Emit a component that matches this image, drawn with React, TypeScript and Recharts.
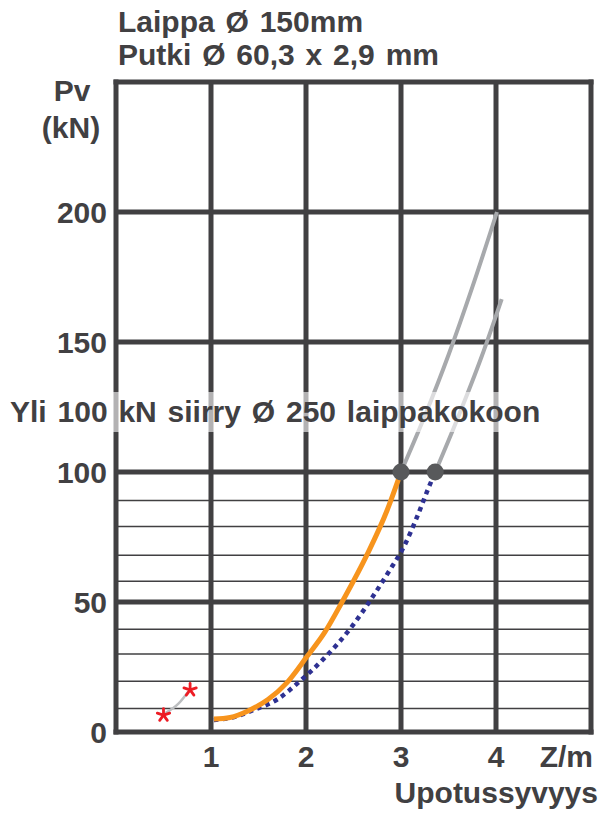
import React from 'react';
import { ComposedChart, Line, Scatter, XAxis, YAxis, ReferenceLine } from 'recharts';

// ---- Data ----
const xTicks = [1, 2, 3, 4];
const yTicks = [0, 50, 100, 150, 200];
const majorY = [50, 100, 150, 200];
const majorX = [1, 2, 3, 4];
const minorY = [9, 19.5, 30, 39.5, 58, 68, 79, 89];

// Orange solid curve
const orangeX = [1.03, 1.2, 1.4, 1.6, 1.8, 2.01, 2.2, 2.38, 2.64, 2.855, 3.0];
const orangeY = [5, 5.6, 8.3, 12.5, 19, 29, 38.5, 50, 68, 85.4, 100];

// Navy dotted curve
const navyX = [1.03, 1.25, 1.45, 1.7, 1.94, 2.19, 2.49, 2.68, 2.86, 3.04, 3.17, 3.28, 3.36];
const navyY = [4.6, 5.8, 8.5, 12.6, 19.7, 28.3, 40.9, 50.8, 61, 72, 82.8, 93, 100];

// Gray continuation curves
const gray1X = [3.0, 3.25, 3.5, 3.75, 4.01];
const gray1Y = [100, 121.5, 145, 171, 200];
const gray2X = [3.36, 3.6, 3.85, 4.06];
const gray2Y = [100, 121, 144.5, 166.5];

// End points (dots)
const dotX = [3.0, 3.36];
const dotY = [100, 100];

// Red asterisks and their connector
const starX = [0.5, 0.78];
const starY = [6.5, 16.2];
const connX = [0.52, 0.66, 0.76];
const connY = [7.3, 11, 15.5];

const zip = (xs: number[], ys: number[]) => xs.map((x, i) => ({ x, y: ys[i] }));

const orangeData = zip(orangeX, orangeY);
const navyData = zip(navyX, navyY);
const gray1Data = zip(gray1X, gray1Y);
const gray2Data = zip(gray2X, gray2Y);
const dotData = zip(dotX, dotY);
const starData = zip(starX, starY);
const connData = zip(connX, connY);

const FONT = '"Liberation Sans", Arial, Helvetica, sans-serif';
const TXT = '#414042';
const GRID = '#414042';

const Asterisk = (props: any) => {
  const { cx, cy } = props;
  const r = 6.5;
  return (
    <g>
      {[0, 1, 2, 3, 4].map((i) => {
        const a = ((-90 + i * 72) * Math.PI) / 180;
        return (
          <line
            key={i}
            x1={cx}
            y1={cy}
            x2={cx + r * Math.cos(a)}
            y2={cy + r * Math.sin(a)}
            stroke="#ED1C24"
            strokeWidth={2.8}
            strokeLinecap="round"
          />
        );
      })}
    </g>
  );
};

const BigDot = (props: any) => <circle cx={props.cx} cy={props.cy} r={8.5} fill="#58595B" />;

const tickStyle = { fill: TXT, fontSize: 30, fontWeight: 'bold', fontFamily: FONT };

export default function App() {
  return (
    <div style={{ position: 'absolute', left: 0, top: 0, width: 601, height: 814, background: '#fff' }}>
      <ComposedChart
        width={601}
        height={814}
        margin={{ top: 82, right: 10, bottom: 42, left: 16 }}
      >
        <XAxis
          type="number"
          dataKey="x"
          domain={[0, 5]}
          ticks={xTicks}
          interval={0}
          allowDataOverflow
          axisLine={false}
          tickLine={false}
          tickSize={0}
          tickMargin={14}
          height={40}
          tick={tickStyle}
        />
        <YAxis
          type="number"
          dataKey="y"
          domain={[0, 250]}
          ticks={yTicks}
          interval={0}
          allowDataOverflow
          axisLine={false}
          tickLine={false}
          tickSize={0}
          tickMargin={9}
          width={100}
          tick={tickStyle}
        />
        {minorY.map((v) => (
          <ReferenceLine key={'m' + v} y={v} stroke={GRID} strokeWidth={1.5} />
        ))}
        {majorY.map((v) => (
          <ReferenceLine key={'y' + v} y={v} stroke={GRID} strokeWidth={5} />
        ))}
        {majorX.map((v) => (
          <ReferenceLine key={'x' + v} x={v} stroke={GRID} strokeWidth={5} />
        ))}
        <ReferenceLine y={0} stroke={GRID} strokeWidth={5} strokeLinecap="square" />
        <ReferenceLine y={250} stroke={GRID} strokeWidth={5} strokeLinecap="square" />
        <ReferenceLine x={0} stroke={GRID} strokeWidth={5} strokeLinecap="square" />
        <ReferenceLine x={5} stroke={GRID} strokeWidth={5} strokeLinecap="square" />

        <Line data={connData} dataKey="y" type="monotone" stroke="#BCBEC0" strokeWidth={2.5} dot={false} isAnimationActive={false} />
        <Line data={gray1Data} dataKey="y" type="monotone" stroke="#A7A9AC" strokeWidth={4} dot={false} isAnimationActive={false} />
        <Line data={gray2Data} dataKey="y" type="monotone" stroke="#A7A9AC" strokeWidth={4} dot={false} isAnimationActive={false} />
        <Line data={navyData} dataKey="y" type="monotone" stroke="#2E3192" strokeWidth={4.5} strokeDasharray="4.5 4.5" dot={false} isAnimationActive={false} />
        <Line data={orangeData} dataKey="y" type="monotone" stroke="#F7941D" strokeWidth={5} dot={false} isAnimationActive={false} />
        <Scatter data={dotData} dataKey="y" shape={BigDot} isAnimationActive={false} />
        <Scatter data={starData} dataKey="y" shape={Asterisk} isAnimationActive={false} />
      </ComposedChart>
      <svg
        width={601}
        height={814}
        style={{ position: 'absolute', left: 0, top: 0, pointerEvents: 'none' }}
      >
        <rect x={5} y={392} width={540} height={40} fill="#fff" fillOpacity={0.6} />
        <g fill={TXT} fontFamily={FONT} fontWeight="bold" fontSize={30}>
          <text x={118} y={32} wordSpacing={2.5}>Laippa Ø 150mm</text>
          <text x={118} y={65} wordSpacing={2.5}>Putki Ø 60,3 x 2,9 mm</text>
          <text x={72} y={101} textAnchor="middle">Pv</text>
          <text x={71} y={138} textAnchor="middle">(kN)</text>
          <text x={10} y={422} wordSpacing={2.5}>Yli 100 kN siirry Ø 250 laippakokoon</text>
          <text x={593} y={767} textAnchor="end">Z/m</text>
          <text x={598} y={803} textAnchor="end">Upotussyvyys</text>
        </g>
      </svg>
    </div>
  );
}
